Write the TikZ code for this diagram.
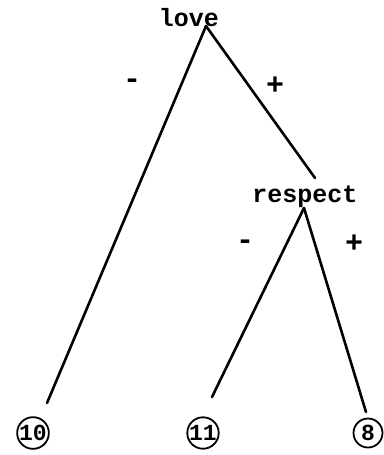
\documentclass[tikz,border=0pt]{standalone}
\usepackage{fontspec}
\setmonofont{Liberation Mono}
\begin{document}
\begin{tikzpicture}[x=1pt,y=-1pt,
  word/.style={font=\ttfamily\bfseries\fontsize{25}{25}\selectfont, inner sep=0pt, anchor=base},
  sign/.style={font=\ttfamily\bfseries\fontsize{30}{30}\selectfont, inner sep=0pt},
  leaf/.style={circle, draw, line width=1.8pt, minimum size=29pt, inner sep=0pt,
               font=\ttfamily\bfseries\fontsize{23}{23}\selectfont},
  branch/.style={line width=2.6pt, line cap=round}]
\useasboundingbox (0,0) rectangle (383,455);
\node[word] (love) at (189,27) {love};
\node[word] (respect) at (305,202) {respect};
\coordinate (loveapex) at (206,26);
\coordinate (respin) at (315,178);
\coordinate (respapex) at (304,208);
\node[leaf] (n10) at (33,433) {10};
\node[leaf] (n11) at (203,433) {11};
\node[leaf] (n8) at (368,433) {8};
\coordinate (e10) at (47,403);
\coordinate (e11) at (212,397);
\coordinate (e8) at (366,412);
\draw[branch] (loveapex) -- (e10);
\draw[branch] (loveapex) -- (respin);
\draw[branch] (respapex) -- (e11);
\draw[branch] (respapex) -- (e8);
\node[sign] (m1) at (132,84) {-};
\node[sign] (p1) at (275,86) {+};
\node[sign] (m2) at (245,245) {-};
\node[sign] (p2) at (354,244) {+};
\end{tikzpicture}
\end{document}
